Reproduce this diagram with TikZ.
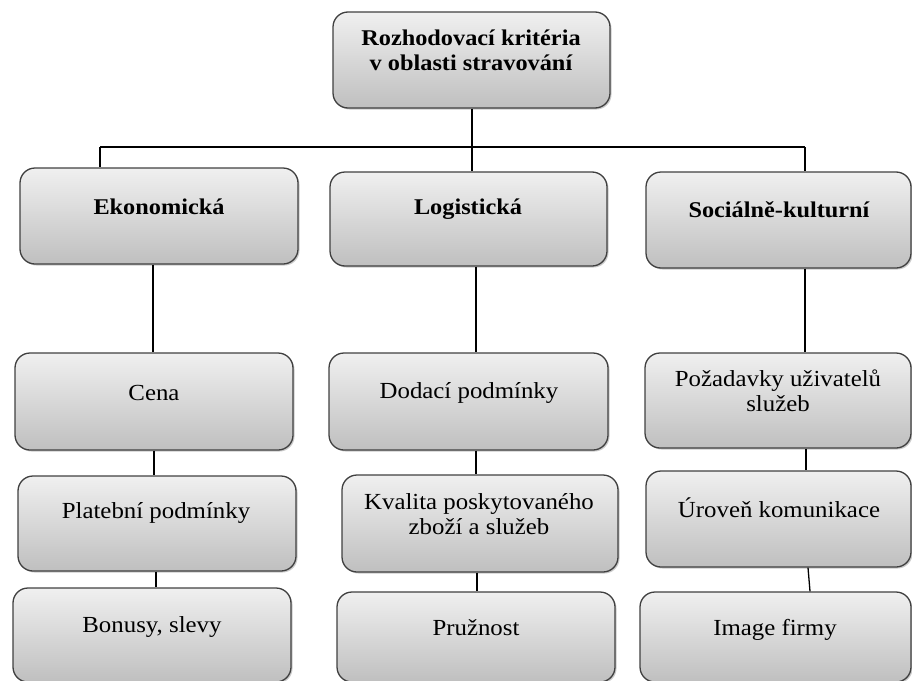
\documentclass[tikz,border=0pt]{standalone}
\usepackage{fontspec}
\setmainfont[FakeStretch=1.08]{Liberation Serif}
\usetikzlibrary{shadows}
\tikzset{
  box/.style={draw=black!75, line width=1.3pt, rounded corners=15pt,
    top color=black!6, bottom color=black!25, inner sep=0pt,
    drop shadow={shadow xshift=1.5pt, shadow yshift=-1.5pt, opacity=0.35, fill=black!60}},
  hd/.style={font=\fontsize{22.5}{25}\selectfont\bfseries, align=center},
  tx/.style={font=\fontsize{23}{25.5}\selectfont, align=center},
  link/.style={line width=1.3pt, draw=black}
}
\newcommand{\boxat}[5]{% name, x1, x2, y1, y2
  \node[box, minimum width={#3-#2}, minimum height={#5-#4}] (#1) at ({(#2+#3)/2},{(#4+#5)/2}) {};}
\begin{document}
\begin{tikzpicture}[x=1pt,y=-1pt]
\useasboundingbox (0,0) rectangle (912,680);
\clip (0,0) rectangle (912,680);

% branching points of the tree
\coordinate (hl) at (100,147);
\coordinate (hr) at (805,147);
\coordinate (hm) at (472,147);

\boxat{root}{333}{610}{12}{108}
\boxat{eko}{20}{298}{168}{264}
\boxat{log}{330}{607}{172}{266}
\boxat{soc}{646}{911}{172}{268}
\boxat{cena}{15}{293}{353}{450}
\boxat{plat}{18}{296}{476}{571}
\boxat{bon}{13}{291}{588}{682}
\boxat{dod}{329}{608}{353}{450}
\boxat{kval}{342}{618}{475}{572}
\boxat{pruz}{337}{615}{592}{682}
\boxat{poz}{645}{911}{353}{448}
\boxat{urov}{646}{911}{471}{567}
\boxat{img}{640}{911}{592}{682}

% tree connectors
\draw[link] (root.south -| hm) -- (hm);
\draw[link] (hl) -- (hr);
\draw[link] (hl) -- (hl |- eko.north);
\draw[link] (hm) -- (hm |- log.north);
\draw[link] (hr) -- (hr |- soc.north);
\draw[link] (eko.south -| 153,0) -- (cena.north -| 153,0);
\draw[link] (log.south -| 476,0) -- (dod.north -| 476,0);
\draw[link] (soc.south -| 805,0) -- (poz.north -| 805,0);
\draw[link] (cena.south -| 154,0) -- (plat.north -| 154,0);
\draw[link] (plat.south -| 156,0) -- (bon.north -| 156,0);
\draw[link] (dod.south -| 476,0) -- (kval.north -| 476,0);
\draw[link] (kval.south -| 477,0) -- (pruz.north -| 477,0);
\draw[link] (poz.south -| 806,0) -- (urov.north -| 806,0);
\draw[link] (urov.south -| 808,0) -- (img.north -| 810,0);

% labels
\node[hd] (root-t) at (471,50) {Rozhodovací kritéria\\v oblasti stravování};
\node[hd] (eko-t) at (159,207) {Ekonomická};
\node[hd] (log-t) at (468,209) {Logistická};
\node[hd] (soc-t) at (779,210) {Sociálně-kulturní};
\node[tx] (cena-t) at (154,393) {Cena};
\node[tx] (plat-t) at (156,513) {Platební podmínky};
\node[tx] (bon-t) at (152,627) {Bonusy, slevy};
\node[tx] (dod-t) at (469,393) {Dodací podmínky};
\node[tx] (kval-t) at (479,514) {Kvalita poskytovaného\\zboží a služeb};
\node[tx] (pruz-t) at (476,628) {Pružnost};
\node[tx] (poz-t) at (778,391) {Požadavky uživatelů\\služeb};
\node[tx] (urov-t) at (779,508) {Úroveň komunikace};
\node[tx] (img-t) at (775,630) {Image firmy};
\end{tikzpicture}
\end{document}
